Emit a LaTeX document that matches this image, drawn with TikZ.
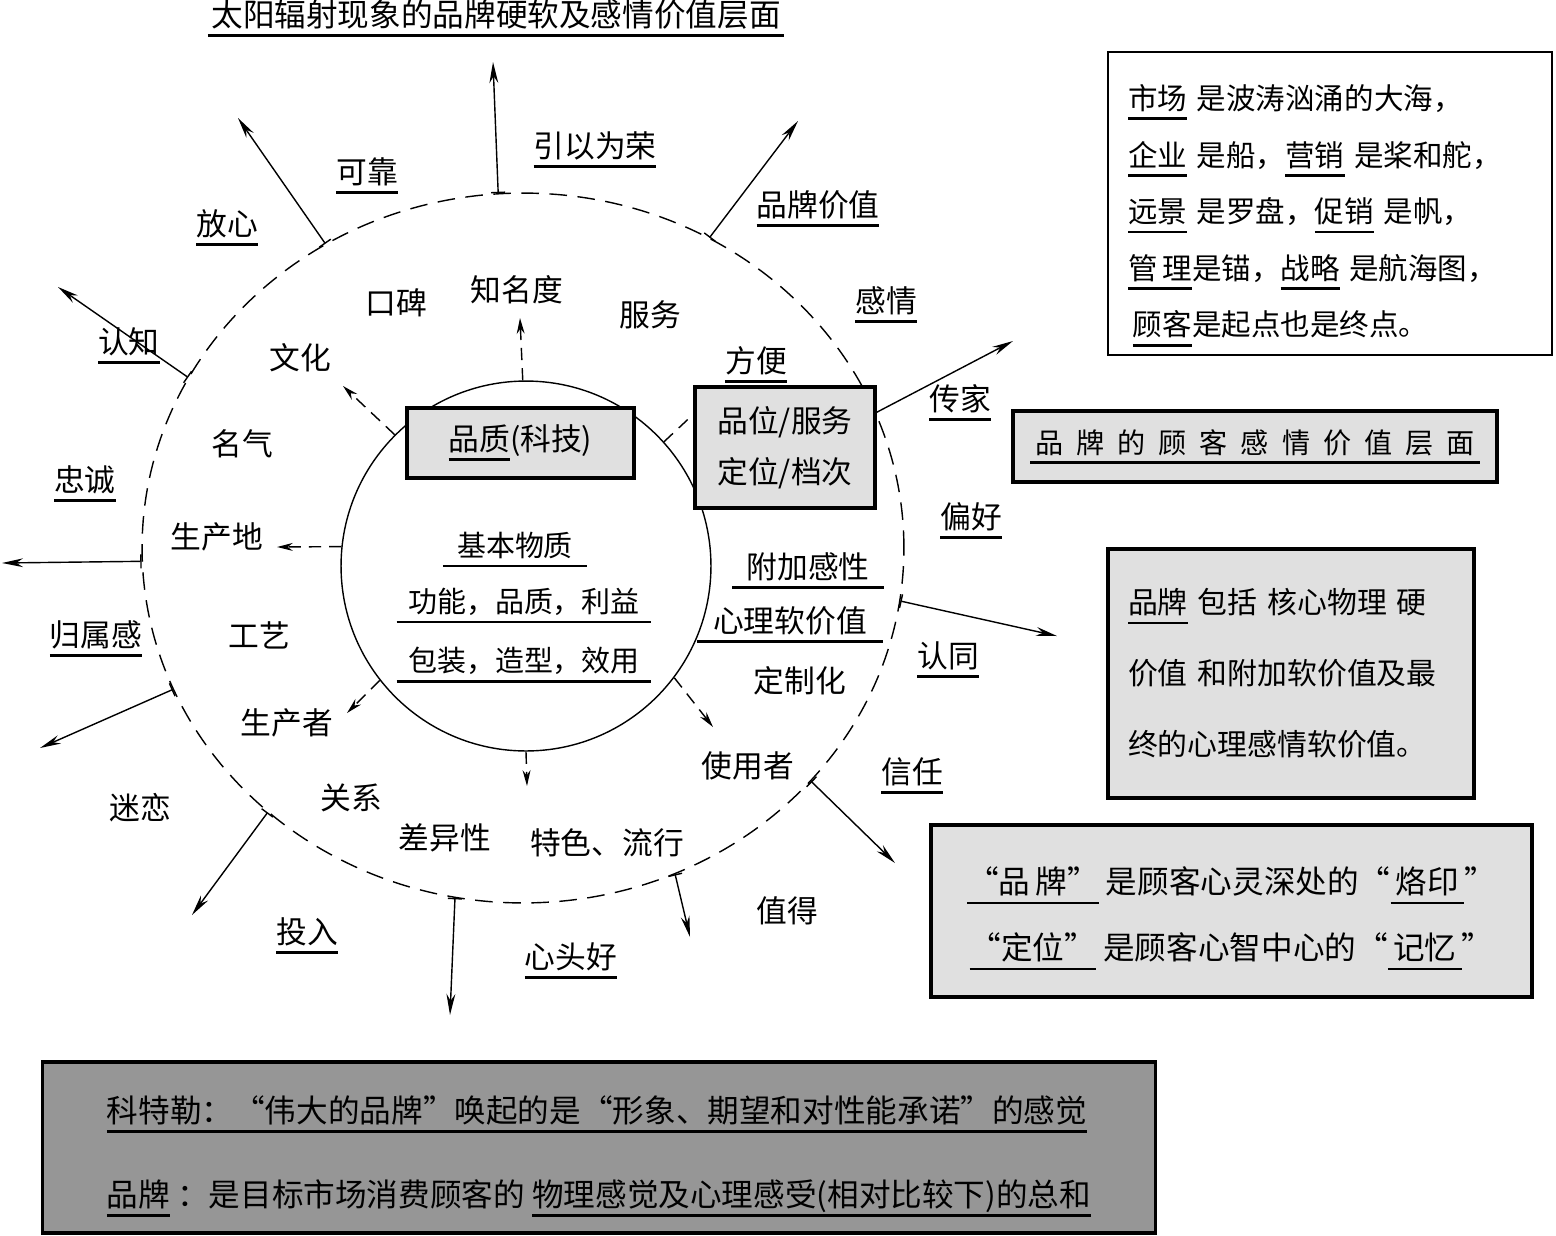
\documentclass[tikz,border=0pt]{standalone}
\usepackage{fontspec}
\setmainfont{Noto Sans CJK SC}
\usepackage{tikz}
\usetikzlibrary{arrows.meta,shapes.geometric}
\definecolor{BoxGray}{RGB}{224,224,224}
\definecolor{DeepGray}{RGB}{150,150,150}
\newsavebox\ulbox
\newcommand\ulin[2][0pt]{\sbox\ulbox{#2}\leavevmode\rlap{\kern-#1\rule[-6pt]{\dimexpr\wd\ulbox+#1+#1\relax}{1.6pt}}\usebox\ulbox}
\newcommand\gp{\hspace{7.4pt}}
\newcommand\topgap[1]{\rule{0pt}{#1}}

\begin{document}
\begin{tikzpicture}[
  x=0.02cm, y=-0.02cm,
  word/.style={
    inner sep=0pt,
    font=\fontsize{17.5}{21}\selectfont
  },
  heading/.style={
    inner sep=0pt,
    font=\fontsize{18}{21}\selectfont
  },
  shade/.style={
    draw,
    line width=1.8pt,
    fill=BoxGray,
    inner sep=0pt
  },
  plainbox/.style={
    draw,
    line width=1.4pt,
    fill=white
  },
  ring/.style={
    ellipse,
    draw,
    line width=0.8pt,
    dash pattern=on 10pt off 6pt,
    inner sep=0pt
  },
  ray/.style={arrows={{Bar[width=8pt]}-{Stealth[length=12pt,width=5pt]}}, line width=0.8pt},
  pull/.style={arrows={-{Stealth[length=9pt,width=4.5pt]}}, line width=0.8pt, dash pattern=on 7pt off 4.5pt}
]
\useasboundingbox (0,0) rectangle (1556,1235);

\node[ring, minimum width=15.24cm, minimum height=14.2cm] (outer) at (523,548) {};
\node[circle, draw, line width=0.8pt, inner sep=0pt, minimum size=7.4cm] (core) at (526,566) {};

\node[shade, word, minimum width=4.54cm, minimum height=1.4cm] (quality) at (520.5,443) {\ulin{品质}(科技)};
\node[shade, word, align=center, minimum width=3.6cm, minimum height=2.42cm, font=\fontsize{17.5}{29}\selectfont] (grade) at (785,447.5) {品位/服务\\定位/档次};

\node[heading] (title) at (496,18) {\ulin[2pt]{太阳辐射现象的品牌硬软及感情价值层面}};

\node[word] (yinyi) at (595,150) {\ulin{引以为荣}};
\node[word] (kekao) at (367,176) {\ulin{可靠}};
\node[word] (fangxin) at (227,228) {\ulin{放心}};
\node[word] (jiazhi) at (818,209) {\ulin{品牌价值}};
\node[word] (ganqing) at (886,305) {\ulin{感情}};
\node[word] (renzhi) at (129,346) {\ulin{认知}};
\node[word] (chuanjia) at (960,403) {\ulin{传家}};
\node[word] (zhongcheng) at (85,484) {\ulin{忠诚}};
\node[word] (pianhao) at (971,521) {\ulin{偏好}};
\node[word] (guishu) at (96,639) {\ulin{归属感}};
\node[word] (rentong) at (948,660) {\ulin{认同}};
\node[word] (xinren) at (912,776) {\ulin{信任}};
\node[word] (milian) at (140,808) {迷恋};
\node[word] (touru) at (307,936) {\ulin{投入}};
\node[word] (xintou) at (571,961) {\ulin{心头好}};
\node[word] (zhide) at (787,911) {值得};

\node[word] (koubei) at (396,303) {口碑};
\node[word] (zhiming) at (517,290) {知名度};
\node[word] (fuwu) at (650,315) {服务};
\node[word] (wenhua) at (300,358) {文化};
\node[word] (fangbian) at (756,365) {\ulin{方便}};
\node[word] (mingqi) at (242,444) {名气};
\node[word] (chandi) at (217,537) {生产地};
\node[word] (gongyi) at (259,635) {工艺};
\node[word] (shengchan) at (287,723) {生产者};
\node[word] (guanxi) at (351,798) {关系};
\node[word] (chayi) at (445,838) {差异性};
\node[word] (tese) at (607,843) {特色、流行};
\node[word] (yonghu) at (748,766) {使用者};
\node[word] (dingzhi) at (800,681) {定制化};
\node[word] (fujia) at (808,571) {\ulin[8pt]{附加感性}};
\node[word] (xinli) at (790,625) {\ulin[9pt]{心理软价值}};

\node[word, font=\fontsize{16.5}{20}\selectfont] (jiben) at (515,550) {\ulin[8pt]{基本物质}};
\node[word, font=\fontsize{16.5}{20}\selectfont] (gongneng) at (524,606) {\ulin[6.5pt]{功能，品质，利益}};
\node[word, font=\fontsize{16.5}{20}\selectfont] (baozhuang) at (524,665) {\ulin[6.5pt]{包装，造型，效用}};

\node[plainbox, align=left, text width=8.08cm, inner xsep=0.4cm, inner ysep=0pt, minimum height=6.06cm, font=\fontsize{16.8}{32.2}\selectfont] (sea) at (1330,203.5)
  {\topgap{28pt}\ulin{市场} 是波涛汹涌的大海，\\
   \ulin{企业} 是船，\ulin{营销} 是桨和舵，\\
   \ulin{远景} 是罗盘，\ulin{促销} 是帆，\\
   \ulin{管\,理}是锚，\ulin{战略} 是航海图，\\
   \,\ulin{顾客}是起点也是终点。};
\node[shade, minimum width=9.68cm, minimum height=1.42cm, font=\fontsize{16}{20}\selectfont] (layer) at (1255,446.5)
  {\ulin[3pt]{品\gp 牌\gp 的\gp 顾\gp 客\gp 感\gp 情\gp 价\gp 值\gp 层\gp 面}};
\node[shade, align=left, text width=6.52cm, inner xsep=0.4cm, minimum height=4.98cm, font=\fontsize{17}{40.4}\selectfont] (include) at (1291,673.5)
  {\ulin{品牌} 包括 核心物理 硬\\
   价值 和附加软价值及最\\
   终的心理感情软价值。};
\node[shade, align=center, minimum width=12.02cm, minimum height=3.44cm, font=\fontsize{18}{37.5}\selectfont] (imprint) at (1231.5,911)
  {\topgap{24pt}\ulin{“品\,牌”} 是顾客心灵深处的“\ulin{\,烙印\,}”\\
   \ulin{“定位”} 是顾客心智中心的“\ulin{\,记忆\,}”};
\node[draw, line width=1.8pt, fill=DeepGray, align=left, minimum width=22.28cm, minimum height=3.42cm, inner sep=0pt, font=\fontsize{18}{48}\selectfont] (kotler) at (599,1147.5)
  {\topgap{25pt}\ulin{科特勒：“伟大的品牌”唤起的是“形象、期望和对性能承诺”的感觉}\\
   \ulin{品牌} ：是目标市场消费顾客的 \ulin{物理感觉及心理感受(相对比较下)的总和}};

\coordinate (topEnd) at (493,62);
\coordinate (fangxinEnd) at (238,118);
\coordinate (renzhiEnd) at (58,287);
\coordinate (leftEnd) at (2,563);
\coordinate (guishuEnd) at (40,748);
\coordinate (milianEnd) at (192,915);
\coordinate (touruEnd) at (450,1015);
\coordinate (xintouEnd) at (690,937);
\coordinate (xinrenEnd) at (895,863);
\coordinate (rentongEnd) at (1057,636);
\coordinate (chuanjiaEnd) at (1013,341);
\coordinate (jiazhiEnd) at (798,121);

\coordinate (zhimingEnd) at (520,318);
\coordinate (wenhuaEnd) at (343,386);
\coordinate (chandiEnd) at (277,547);
\coordinate (shengchanEnd) at (347,713);
\coordinate (downEnd) at (527,786);
\coordinate (yonghuEnd) at (713,727);

\draw[ray] (outer.94.8) -- (topEnd);
\draw[ray] (outer.123.6) -- (fangxinEnd);
\draw[ray] (outer.153.4) -- (renzhiEnd);
\draw[ray] (outer.182.3) -- (leftEnd);
\draw[ray] (outer.202.5) -- (guishuEnd);
\draw[ray] (outer.226.3) -- (milianEnd);
\draw[ray] (outer.259.5) -- (touruEnd);
\draw[ray] (outer.295) -- (xintouEnd);
\draw[ray] (outer.321) -- (xinrenEnd);
\draw[ray] (outer.352.4) -- (rentongEnd);
\draw[ray] (outer.59.4) -- (jiazhiEnd);
\draw[ray, arrows={-{Stealth[length=12pt,width=5pt]}}] (grade.21) -- (chuanjiaEnd);

\draw[pull] (core.91.9) -- (zhimingEnd);
\draw[pull] (core.135) -- (wenhuaEnd);
\draw[pull] (core.174) -- (chandiEnd);
\draw[pull] (core.218.8) -- (shengchanEnd);
\draw[pull] (core.270) -- (downEnd);
\draw[pull] (core.323) -- (yonghuEnd);
\draw[pull, -] (core.42) -- (grade.160);
\end{tikzpicture}
\end{document}
